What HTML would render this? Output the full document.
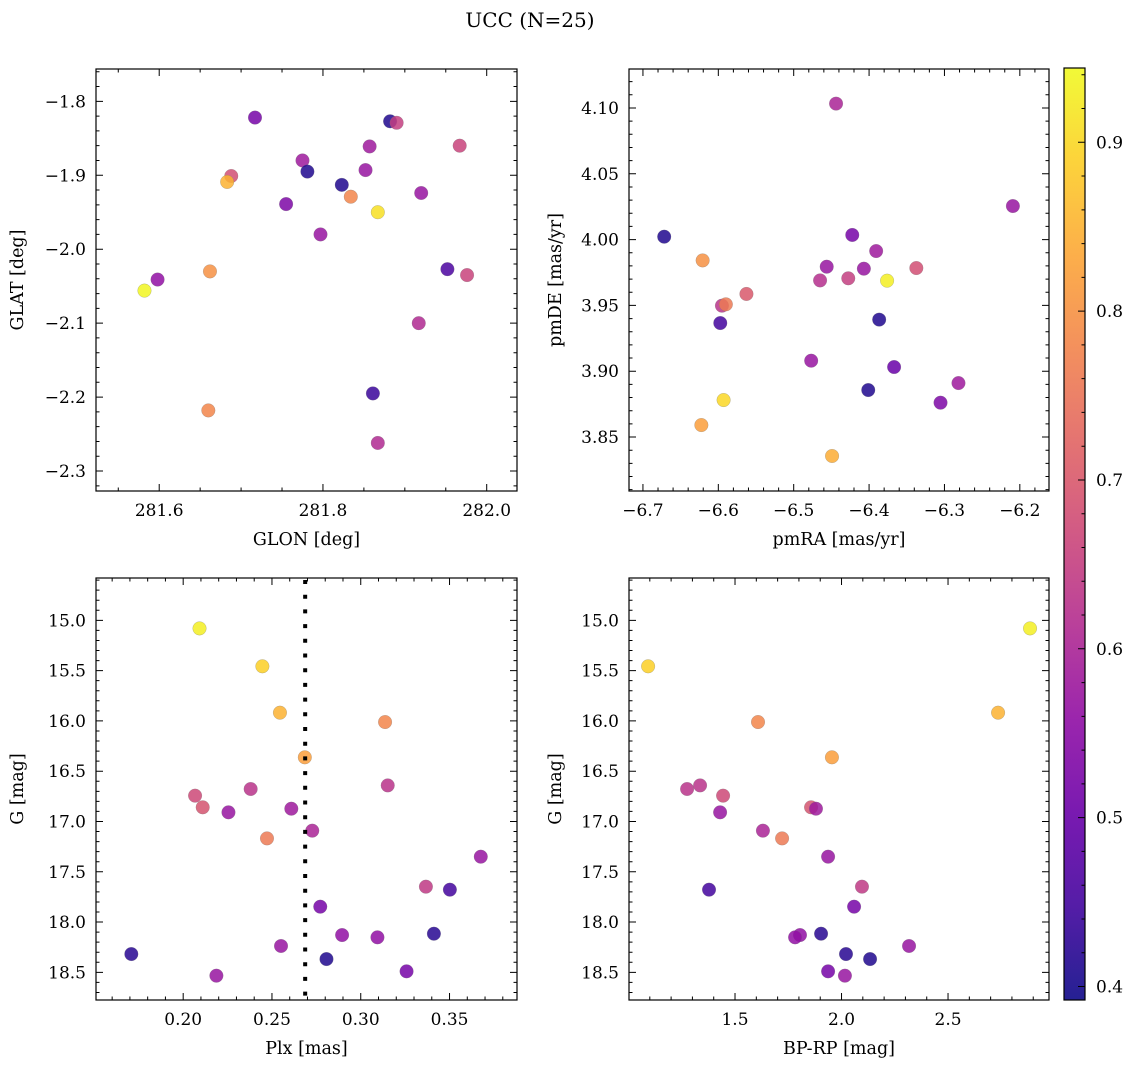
<!DOCTYPE html>
<html><head><meta charset="utf-8">
<style>
html,body{margin:0;padding:0;background:#fff;}
svg{display:block;font-family:"DejaVu Serif","Liberation Serif",serif;}
</style></head>
<body>
<svg id="chart" width="1136" height="1068" viewBox="0 0 1136 1068" xmlns="http://www.w3.org/2000/svg">
<text x="530" y="27" text-anchor="middle" font-size="20">UCC (N=25)</text>
</svg>
<script>
// ---- Data ----
const glon = [281.717,281.882,281.890,281.967,281.857,281.775,281.781,281.852,281.688,281.683,281.823,281.834,281.920,281.755,281.867,281.797,281.952,281.976,281.662,281.598,281.582,281.917,281.861,281.660,281.867];
const glat = [-1.822,-1.827,-1.829,-1.860,-1.861,-1.880,-1.895,-1.893,-1.901,-1.909,-1.913,-1.929,-1.924,-1.939,-1.950,-1.980,-2.027,-2.035,-2.030,-2.041,-2.056,-2.100,-2.195,-2.218,-2.262];
const probTL = [0.52,0.41,0.65,0.66,0.58,0.58,0.41,0.57,0.68,0.85,0.41,0.78,0.57,0.53,0.91,0.57,0.46,0.66,0.80,0.56,0.94,0.61,0.44,0.78,0.61];

const pmra = [-6.4438,-6.2092,-6.6718,-6.4223,-6.3906,-6.6208,-6.4562,-6.4069,-6.3373,-6.4650,-6.4276,-6.3761,-6.5627,-6.5952,-6.5900,-6.5974,-6.3866,-6.4768,-6.3668,-6.4011,-6.2814,-6.3052,-6.5930,-6.6225,-6.4491];
const pmde = [4.1033,4.0255,4.0022,4.0035,3.9913,3.9842,3.9794,3.9779,3.9784,3.9690,3.9706,3.9688,3.9587,3.9498,3.9508,3.9366,3.9392,3.9080,3.9032,3.8857,3.8910,3.8761,3.8781,3.8591,3.8356];
const probTR = [0.60,0.57,0.41,0.52,0.58,0.80,0.57,0.57,0.68,0.62,0.65,0.93,0.70,0.63,0.76,0.45,0.41,0.57,0.50,0.41,0.58,0.53,0.90,0.82,0.84];

const plx  = [0.2092,0.2446,0.2545,0.3137,0.2685,0.3152,0.2380,0.2067,0.2110,0.2255,0.2609,0.2727,0.2472,0.3676,0.3367,0.3502,0.2772,0.2895,0.3094,0.3412,0.2551,0.1708,0.2807,0.3258,0.2187];
const gmag = [15.080,15.457,15.918,16.011,16.362,16.641,16.677,16.743,16.859,16.909,16.873,17.091,17.168,17.350,17.648,17.678,17.847,18.129,18.152,18.116,18.238,18.318,18.368,18.490,18.533];
const bprp = [2.885,1.092,2.735,1.608,1.955,1.336,1.275,1.444,1.857,1.430,1.880,1.631,1.721,1.937,2.096,1.378,2.059,1.805,1.782,1.904,2.317,2.021,2.134,1.937,2.016];
const probB = [0.93,0.89,0.85,0.78,0.82,0.63,0.63,0.67,0.69,0.57,0.58,0.60,0.76,0.57,0.64,0.45,0.52,0.56,0.56,0.42,0.57,0.42,0.41,0.52,0.57];
const plxMedian = 0.2687;

const tlXTicks = [281.6,281.8,282.0];
const tlYTicks = [-1.8,-1.9,-2.0,-2.1,-2.2,-2.3];
const trXTicks = [-6.7,-6.6,-6.5,-6.4,-6.3,-6.2];
const trYTicks = [4.10,4.05,4.00,3.95,3.90,3.85];
const blXTicks = [0.20,0.25,0.30,0.35];
const gTicks = [15.0,15.5,16.0,16.5,17.0,17.5,18.0,18.5];
const brXTicks = [1.5,2.0,2.5];
const cbTicks = [0.4,0.5,0.6,0.7,0.8,0.9];

const NS = "http://www.w3.org/2000/svg";
const svg = document.getElementById('chart');
function mk(tag, attrs, parent){
  const e = document.createElementNS(NS, tag);
  for (const k in attrs) e.setAttribute(k, attrs[k]);
  (parent||svg).appendChild(e);
  return e;
}
const vmin = 0.392, vmax = 0.944;
const plasma = ["#0d0887","#41049d","#6a00a8","#8f0da4","#b12a90","#cc4778","#e16462","#f2844b","#fca636","#fcce25","#f0f921"];
function hex(h){return [parseInt(h.substr(1,2),16),parseInt(h.substr(3,2),16),parseInt(h.substr(5,2),16)];}
function cmap(t){
  t = Math.max(0, Math.min(1, t));
  const f = t*10, i = Math.min(9, Math.floor(f)), r = f - i;
  const a = hex(plasma[i]), b = hex(plasma[i+1]);
  return "rgb(" + a.map((v,k)=>Math.round(v+(b[k]-v)*r)).join(",") + ")";
}
function colorOf(p){ return cmap((p - vmin)/(vmax - vmin)); }
function fmt(v, d){ const s = Math.abs(v).toFixed(d); return (v < -1e-9 ? "\u2212" : "") + s; }

function panel(o){
  const g = mk('g', {});
  
  
  const L=o.x0, R=o.x1, T=o.y0, B=o.y1;
  const sx = v => L + (v - o.xmin)/(o.xmax - o.xmin)*(R - L);
  const sy = o.yinv ? (v => T + (v - o.ymin)/(o.ymax - o.ymin)*(B - T))
                    : (v => B - (v - o.ymin)/(o.ymax - o.ymin)*(B - T));
  const pg = mk('g', {}, g);
  
  
  for (let i = 0; i < o.xs.length; i++){
    const c = mk('circle', {cx: sx(o.xs[i]).toFixed(2), cy: sy(o.ys[i]).toFixed(2), r: 6.8,
      fill: colorOf(o.cs[i]), 'fill-opacity': 0.85, stroke: '#777', 'stroke-width': 0.4, 'stroke-opacity':0.6}, pg);
    
    
  }
  if (o.vline !== undefined){
    const ln = mk('line', {x1: sx(o.vline), x2: sx(o.vline), y1: T+2, y2: B, stroke: '#000', 'stroke-width': 4, 'stroke-dasharray': '4 10.7'}, g);
    
    
  }
  const fr = mk('rect', {x: L, y: T, width: R-L, height: B-T, fill: 'none', stroke: '#000', 'stroke-width': 1.2}, g);
  
  
  let d = "";
  const mnX = Math.ceil((o.xmin)/o.xminor - 1e-6), mxX = Math.floor(o.xmax/o.xminor + 1e-6);
  for (let k = mnX; k <= mxX; k++){
    const x = sx(k*o.xminor);
    d += `M${x} ${B}v-3.5M${x} ${T}v3.5`;
  }
  const lo = Math.min(o.ymin,o.ymax), hi = Math.max(o.ymin,o.ymax);
  for (let k = Math.ceil(lo/o.yminor - 1e-6); k <= Math.floor(hi/o.yminor + 1e-6); k++){
    const y = sy(k*o.yminor);
    d += `M${L} ${y}h3.5M${R} ${y}h-3.5`;
  }
  o.xticks.forEach(v => { const x = sx(v); d += `M${x} ${B}v-7M${x} ${T}v7`; });
  o.yticks.forEach(v => { const y = sy(v); d += `M${L} ${y}h7M${R} ${y}h-7`; });
  const tp = mk('path', {d: d, stroke: '#000', 'stroke-width': 1, fill: 'none'}, g);
  
  
  o.xticks.forEach(v => {
    const t = mk('text', {x: sx(v), y: B + 25, 'text-anchor': 'middle', 'font-size': 17}, g);
    t.textContent = fmt(v, o.xdec);
    
    
  });
  o.yticks.forEach(v => {
    const t = mk('text', {x: L - 10, y: sy(v) + 6, 'text-anchor': 'end', 'font-size': 17}, g);
    t.textContent = fmt(v, o.ydec);
    
    
  });
  const xl = mk('text', {x: (L+R)/2, y: B + 54, 'text-anchor': 'middle', 'font-size': 17.5}, g);
  xl.textContent = o.xlabel;
  
  
  const yx = o.ylabx, yy = (T+B)/2;
  const yl = mk('text', {x: yx, y: yy, 'text-anchor': 'middle', 'font-size': 17.5, transform: `rotate(-90 ${yx} ${yy})`}, g);
  yl.textContent = o.ylabel;
  
  
}

panel({name:'glon-glat-panel', x0:96,x1:517,y0:69,y1:491, xmin:281.5228,xmax:282.037, ymin:-2.327,ymax:-1.7563,
  xs:glon, ys:glat, cs:probTL, xticks:tlXTicks, yticks:tlYTicks, xminor:0.05, yminor:0.02, xdec:1, ydec:1,
  xlabel:'GLON [deg]', ylabel:'GLAT [deg]', ylabx:23});
panel({name:'pm-panel', x0:629,x1:1049,y0:69,y1:491, xmin:-6.7185,xmax:-6.1613, ymin:3.809,ymax:4.1296,
  xs:pmra, ys:pmde, cs:probTR, xticks:trXTicks, yticks:trYTicks, xminor:0.02, yminor:0.01, xdec:1, ydec:2,
  xlabel:'pmRA [mas/yr]', ylabel:'pmDE [mas/yr]', ylabx:561});
panel({name:'plx-g-panel', x0:96,x1:517,y0:578,y1:1000, xmin:0.1509,xmax:0.388, ymin:14.579,ymax:18.775, yinv:true,
  xs:plx, ys:gmag, cs:probB, xticks:blXTicks, yticks:gTicks, xminor:0.01, yminor:0.1, xdec:2, ydec:1,
  xlabel:'Plx [mas]', ylabel:'G [mag]', ylabx:23, vline:plxMedian});
panel({name:'cmd-panel', x0:629,x1:1049,y0:578,y1:1000, xmin:1.0023,xmax:2.974, ymin:14.579,ymax:18.775, yinv:true,
  xs:bprp, ys:gmag, cs:probB, xticks:brXTicks, yticks:gTicks, xminor:0.1, yminor:0.1, xdec:1, ydec:1,
  xlabel:'BP-RP [mag]', ylabel:'G [mag]', ylabx:561});

(function(){
  const X0 = 1064, X1 = 1085, T = 68, B = 1000;
  const defs = mk('defs', {});
  const grad = mk('linearGradient', {id: 'cbgrad', x1: 0, y1: 1, x2: 0, y2: 0}, defs);
  for (let i = 0; i <= 20; i++){
    const v = vmin + (vmax - vmin)*i/20;
    mk('stop', {offset: (i/20), 'stop-color': colorOf(v), 'stop-opacity': 0.9}, grad);
  }
  const g = mk('g', {});
  
  
  const r = mk('rect', {x: X0, y: T, width: X1-X0, height: B-T, fill: 'url(#cbgrad)', stroke: '#000', 'stroke-width': 1.2}, g);
  
  
  const sy = v => B - (v - vmin)/(vmax - vmin)*(B - T);
  let d = "";
  for (let k = Math.ceil(vmin/0.02); k <= Math.floor(vmax/0.02); k++) d += `M${X1} ${sy(k*0.02)}h-3.5`;
  cbTicks.forEach(v => { d += `M${X1} ${sy(v)}h-7`; });
  const tp = mk('path', {d: d, stroke: '#000', 'stroke-width': 1}, g);
  
  
  cbTicks.forEach(v => {
    const t = mk('text', {x: X1 + 11, y: sy(v) + 6, 'font-size': 17}, g);
    t.textContent = v.toFixed(1);
    
    
  });
})();
</script>
</body></html>
